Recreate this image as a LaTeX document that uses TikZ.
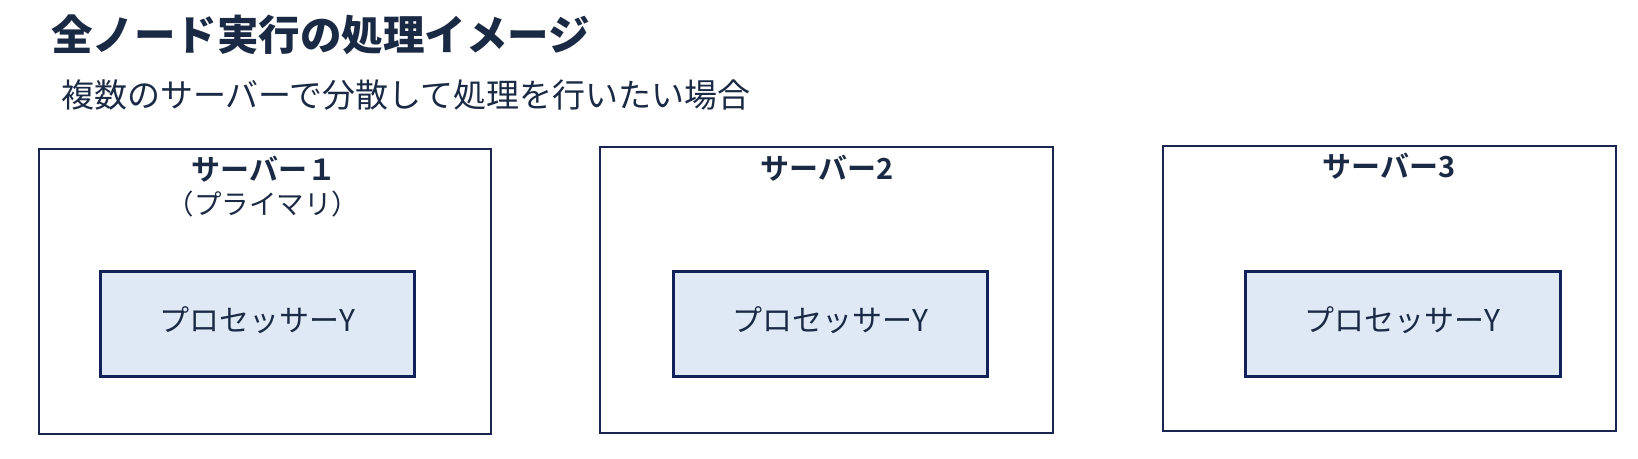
\documentclass[tikz,border=0pt]{standalone}
\usepackage{fontspec}
\setmainfont{Noto Sans CJK JP}[BoldFont={Noto Sans CJK JP Bold}]
\newfontfamily\blackfont{Noto Sans CJK JP Black}
\definecolor{txt}{HTML}{1B2A44}
\definecolor{edge}{HTML}{13215A}
\definecolor{outer}{HTML}{1A2550}
\definecolor{procfill}{HTML}{DFE8F5}
\tikzset{
  serverbox/.style={draw=outer, line width=1.8pt},
  procbox/.style={draw=edge, fill=procfill, line width=3pt},
  titletext/.style={anchor=base west, inner sep=0pt, text=txt, font=\fontsize{41.5}{48}\selectfont\blackfont},
  subtext/.style={anchor=base west, inner sep=0pt, text=txt, font=\fontsize{33}{38}\selectfont},
  srvlabel/.style={anchor=base, inner sep=0pt, text=txt, font=\fontsize{29}{32}\selectfont\bfseries},
  srvsub/.style={anchor=base, inner sep=0pt, text=txt, font=\fontsize{27.5}{30}\selectfont},
  proclabel/.style={anchor=center, inner sep=0pt, text=txt, font=\fontsize{30}{32}\selectfont},
}
\begin{document}
\begin{tikzpicture}[x=1pt,y=-1pt]
\useasboundingbox (0,0) rectangle (1638,458);
\fill[white] (0,0) rectangle (1638,458);
\node[titletext] (title) at (51,50) {全ノード実行の処理イメージ};
\node[subtext] (sub) at (61,107) {複数のサーバーで分散して処理を行いたい場合};
% servers
\draw[serverbox] (39,149) rectangle (491,434);
\draw[serverbox] (600,147) rectangle (1053,433);
\draw[serverbox] (1163,146) rectangle (1616,431);
\node[srvlabel] (l1) at (264,180) {サーバー１};
\node[srvsub] (l1b) at (263,214) {（プライマリ）};
\node[srvlabel] (l2) at (827,179) {サーバー2};
\node[srvlabel] (l3) at (1389,177) {サーバー3};
% processors
\draw[procbox] (100,271) rectangle (414,376);
\draw[procbox] (673,271) rectangle (987,376);
\draw[procbox] (1245,271) rectangle (1560,376);
\node[proclabel] (p1) at (257,320) {プロセッサーY};
\node[proclabel] (p2) at (830,320) {プロセッサーY};
\node[proclabel] (p3) at (1402,320) {プロセッサーY};
\end{tikzpicture}
\end{document}
